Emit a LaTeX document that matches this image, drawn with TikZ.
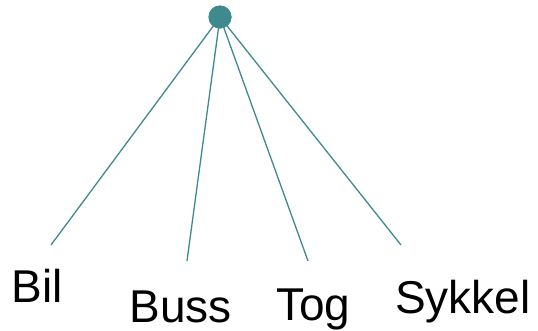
\documentclass[tikz,border=0pt]{standalone}
\usepackage{fontspec}
\setmainfont{Liberation Sans}
\definecolor{teal}{RGB}{62,138,142}
\begin{document}
\begin{tikzpicture}[x=1pt,y=-1pt,
  branch/.style={draw=teal,line width=1.3pt},
  rootdot/.style={circle,fill=teal,minimum size=23pt,inner sep=0pt},
  leaf/.style={anchor=base west,inner sep=0pt,font=\fontsize{46}{55}\selectfont}]
\useasboundingbox (0,0) rectangle (538,330);
\node[rootdot] (root) at (220,17) {};
\coordinate (bil) at (51,245);
\coordinate (buss) at (187,261);
\coordinate (tog) at (308,261);
\coordinate (sykkel) at (401,245);
\foreach \c in {bil,buss,tog,sykkel}
  \draw[branch] (root.center) -- (\c);
\node[rootdot] at (root) {};
\node[leaf] (lbil) at (11.5,302) {Bil};
\node[leaf] (lbuss) at (129.5,322) {Buss};
\node[leaf] (ltog) at (276,320) {Tog};
\node[leaf] (lsykkel) at (395,313) {Sykkel};
\end{tikzpicture}
\end{document}
